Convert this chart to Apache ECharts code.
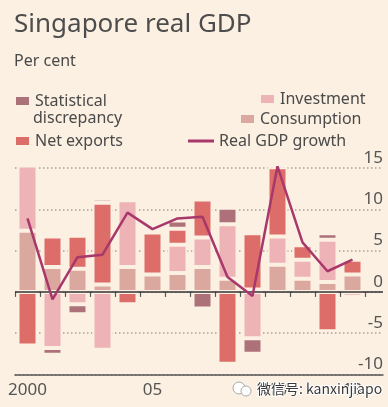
<!DOCTYPE html>
<html><head><meta charset="utf-8">
<script src="https://cdn.jsdelivr.net/npm/echarts@6/dist/echarts.min.js"></script>
<style>html,body{margin:0;padding:0;background:#fcf0e2;}#c{width:388px;height:407px;}</style>
</head><body><div id="c"></div>
<script>
const years = ['2000', '2001', '2002', '2003', '2004', '2005', '2006', '2007', '2008', '2009', '2010', '2011', '2012', '2013'];
const consumption = [7.4, 3.0, 2.8, 0.9, 3.0, 2.1, 2.3, 3.0, 1.6, 0.3, 3.3, 1.6, 1.2, 2.1];
const investment = [7.9, -6.8, -1.5, -7.0, 8.1, 0, 3.4, 3.6, 6.6, -5.6, 3.4, 2.3, 5.1, -0.6];
const netExports = [-6.5, 3.7, 4.0, 9.9, -1.5, 5.1, 1.95, 4.6, -8.7, 6.8, 8.4, 1.75, -4.75, 1.8];
const discrepancy = [0, -0.8, -1.2, 0.5, 0, 0, 1.0, -2.0, 2.0, -1.9, 0, 0.2, 0.8, 0.35];
const gdpGrowth = [8.9, -0.9, 4.2, 4.5, 9.6, 7.6, 8.9, 9.1, 1.8, -0.5, 15.2, 6.0, 2.5, 3.9];
const xTickLabels = { '2000': '2000', '2005': '05', '2010': '10', '2013': '13' };

const BG = '#fcf0e2';
const FONT = 'Noto Sans';
const TXT = '#4a4a4a';
const AX = '#555';
const clean = arr => arr.map(v => (v === 0 ? null : v));

const barSeries = (name, arr, color) => ({
  name, type: 'bar', stack: 'gdp', barWidth: 20, clip: false, z: 2,
  xAxisIndex: 0, yAxisIndex: 0,
  data: clean(arr),
  itemStyle: { color, borderColor: BG, borderWidth: 2 }
});

const chart = echarts.init(document.getElementById('c'), null, { renderer: 'canvas' });
const legendBase = {
  orient: 'horizontal', padding: 0, itemWidth: 15, itemHeight: 10, icon: 'rect', selectedMode: false,
  textStyle: { color: TXT, fontSize: 16, fontFamily: FONT, lineHeight: 20 }
};
chart.setOption({
  backgroundColor: BG,
  animation: false,
  title: [
    { text: 'Singapore real GDP', left: 14, top: 10, padding: 0,
      textStyle: { color: '#4d4d4d', fontSize: 26, fontWeight: 'normal', fontFamily: FONT, lineHeight: 30 } },
    { text: 'Per cent', left: 14, top: 51, padding: 0,
      textStyle: { color: TXT, fontSize: 16, fontWeight: 'normal', fontFamily: FONT, lineHeight: 20 } }
  ],
  legend: [
    Object.assign({}, legendBase, { data: ['Statistical discrepancy'], left: 14, top: 91,
      formatter: () => 'Statistical' }),
    Object.assign({}, legendBase, { data: ['Net exports'], left: 14, top: 131 }),
    Object.assign({}, legendBase, { data: ['Investment'], left: 259, top: 89 }),
    Object.assign({}, legendBase, { data: ['Consumption'], left: 239, top: 109 }),
    Object.assign({}, legendBase, { data: ['Real GDP growth'], left: 188, top: 131, itemWidth: 26, itemHeight: 3 })
  ],
  grid: [
    { left: 15, right: 23, top: 168, bottom: 32.5 },
    { left: 15, right: 5, top: 168, bottom: 32.5 }
  ],
  xAxis: [
    { type: 'category', gridIndex: 0, data: years, boundaryGap: true,
      axisLine: { show: false },
      axisTick: { show: true, alignWithLabel: false, interval: 0, length: 5, lineStyle: { color: AX, width: 1.2 } },
      axisLabel: { interval: 0, formatter: v => xTickLabels[v] || '', color: AX, fontSize: 17,
        fontFamily: FONT, margin: 7, lineHeight: 18 },
      splitLine: { show: false } },
    { type: 'value', gridIndex: 1, min: 0, max: 1, show: true,
      axisLine: { show: true, onZero: false, lineStyle: { color: AX, width: 1.5 } },
      axisTick: { show: false }, axisLabel: { show: false }, splitLine: { show: false } }
  ],
  yAxis: [
    { type: 'value', gridIndex: 0, min: -10, max: 15, interval: 5, show: false },
    { type: 'value', gridIndex: 1, min: -10, max: 15, interval: 5, position: 'right',
      axisLine: { show: false }, axisTick: { show: false },
      axisLabel: { inside: true, margin: 0, verticalAlign: 'bottom', color: AX, fontSize: 17,
        fontFamily: FONT, lineHeight: 18, padding: [0, 0, 1, 0] },
      splitLine: { show: true, lineStyle: { type: [1.5, 2.5], color: '#a8a097', width: 1.5 } } }
  ],
  series: [
    barSeries('Consumption', consumption, '#dba89f'),
    barSeries('Investment', investment, '#eeb3b6'),
    barSeries('Net exports', netExports, '#dd6d68'),
    barSeries('Statistical discrepancy', discrepancy, '#ad7279'),
    { name: 'zero', type: 'line', xAxisIndex: 1, yAxisIndex: 1, data: [[0, 0], [1, 0]], z: 3, silent: true,
      symbol: 'none', lineStyle: { color: '#333', width: 1.5 } },
    { name: 'Real GDP growth', type: 'line', xAxisIndex: 0, yAxisIndex: 0, z: 5, symbol: 'none', clip: false,
      data: gdpGrowth,
      lineStyle: { color: '#a8386b', width: 2.5 }, itemStyle: { color: '#a8386b' } }
  ],
  graphic: [
    { type: 'text', left: 33, top: 110, z: 10,
      style: { text: 'discrepancy', fill: TXT, font: '16px "Noto Sans"' } },
    { type: 'circle', shape: { cx: 239, cy: 388, r: 6 }, style: { fill: '#fff', stroke: '#aaa', lineWidth: 1 }, z: 20 },
    { type: 'circle', shape: { cx: 246, cy: 391, r: 5 }, style: { fill: '#fff', stroke: '#aaa', lineWidth: 1 }, z: 21 },
    { type: 'text', left: 256, top: 381, z: 22,
      style: { text: '微信号: kanxinjiapo', fill: '#3a3a3a', font: '14px "Noto Sans CJK SC"', stroke: '#ffffff', lineWidth: 2 } }
  ]
});
</script></body></html>
